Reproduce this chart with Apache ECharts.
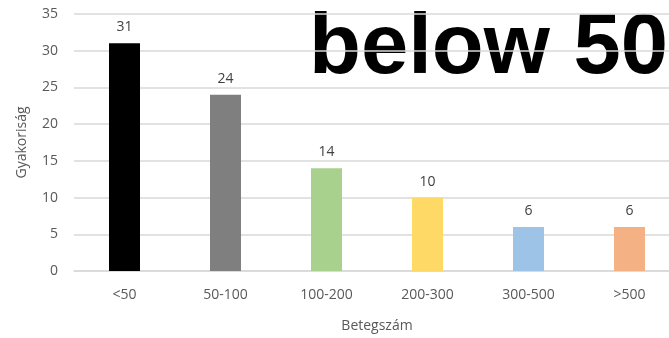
<!DOCTYPE html>
<html>
<head>
<meta charset="utf-8">
<script src="https://cdn.jsdelivr.net/npm/echarts@6/dist/echarts.min.js"></script>
<style>
  html, body { margin: 0; padding: 0; background: #fff; overflow: hidden; }
  /* the plot area continues a little past the visible right edge */
  #chart { width: 680px; height: 338px; }
</style>
</head>
<body>
<div id="chart"></div>
<script>
// Patient-count bins and their frequencies
const categories = ['<50', '50-100', '100-200', '200-300', '300-500', '>500'];
const counts = [31, 24, 14, 10, 6, 6];
const barColors = ['#000000', '#7f7f7f', '#a9d18e', '#ffd966', '#9dc3e6', '#f4b183'];
const yTicks = { min: 0, max: 35, interval: 5 };

const font = '"Open Sans", "Liberation Sans", sans-serif';
const chart = echarts.init(document.getElementById('chart'), null, { renderer: 'canvas' });

chart.setOption({
  animation: false,
  grid: { left: 74, right: 0, top: 14, bottom: 64, containLabel: false },
  xAxis: {
    type: 'category',
    data: categories,
    name: 'Betegszám',
    nameLocation: 'middle',
    nameGap: 48,
    nameTextStyle: { color: '#595959', fontSize: 14, fontFamily: font },
    axisLine: { lineStyle: { color: '#d9d9d9', width: 1.5 } },
    axisTick: { show: false },
    axisLabel: { color: '#595959', fontSize: 14, fontFamily: font, margin: 17 }
  },
  yAxis: {
    type: 'value',
    min: yTicks.min,
    max: yTicks.max,
    interval: yTicks.interval,
    name: 'Gyakoriság',
    nameLocation: 'middle',
    nameGap: 45,
    nameRotate: 90,
    nameTextStyle: { color: '#595959', fontSize: 14, fontFamily: font },
    axisLine: { show: false },
    axisTick: { show: false },
    axisLabel: { color: '#595959', fontSize: 14, fontFamily: font, margin: 16 },
    splitLine: { lineStyle: { color: '#d9d9d9', width: 1.5 } }
  },
  series: [{
    type: 'bar',
    data: counts.map((v, i) => ({ value: v, itemStyle: { color: barColors[i] } })),
    barWidth: 31,
    label: {
      show: true,
      position: 'top',
      distance: 9,
      color: '#404040',
      fontSize: 14,
      fontFamily: font
    }
  }],
  graphic: [{
    type: 'text',
    right: 12,
    top: 7,
    style: {
      text: 'below 50',
      fill: '#000',
      font: 'bold 85px "Liberation Sans", Arial, sans-serif'
    }
  }]
});
</script>
</body>
</html>
